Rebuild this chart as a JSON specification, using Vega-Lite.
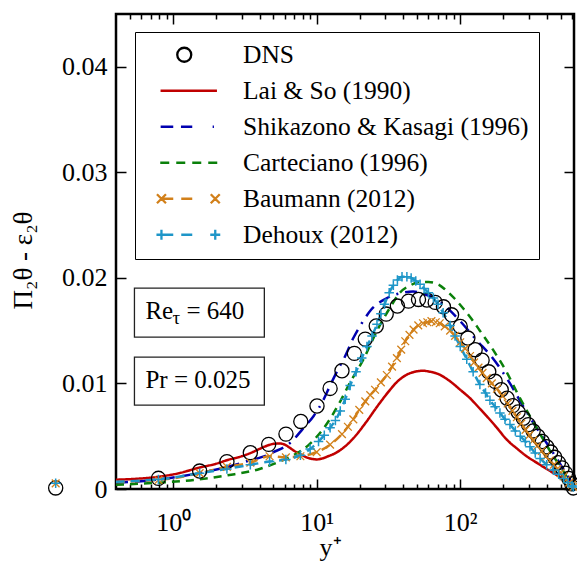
{
  "$schema": "https://vega.github.io/schema/vega-lite/v6.json",
  "width": 458,
  "height": 475,
  "autosize": {"type": "none"},
  "padding": {"left": 116, "top": 14, "right": 3, "bottom": 72},
  "background": "white",
  "config": {
    "view": {"stroke": "black", "strokeWidth": 2.5},
    "font": "Liberation Serif",
    "axis": {
      "domain": false,
      "grid": false,
      "tickColor": "black",
      "tickWidth": 1.5,
      "labelFont": "Liberation Serif",
      "labelFontSize": 26,
      "labelColor": "black",
      "labelOverlap": false,
      "labelBound": false,
      "labelFlush": false,
      "titleFont": "Liberation Serif",
      "titleFontWeight": "normal",
      "titleColor": "black"
    },
    "legend": {
      "orient": "none",
      "legendX": 19,
      "legendY": 18,
      "padding": 10,
      "strokeColor": "black",
      "rowPadding": 9,
      "labelFont": "Liberation Serif",
      "labelFontSize": 25.5,
      "labelColor": "black",
      "labelLimit": 500,
      "symbolSize": 100,
      "symbolStrokeWidth": 2.3,
      "symbolFillColor": "transparent",
      "symbolOpacity": 1,
      "symbolOffset": 31,
      "labelOffset": 41.5
    }
  },
  "datasets": {
    "curves": [
      {"m": "DNS", "yp": 0.152, "v": 0.0001},
      {"m": "DNS", "yp": 0.79, "v": 0.00101},
      {"m": "DNS", "yp": 1.53, "v": 0.0017},
      {"m": "DNS", "yp": 2.37, "v": 0.00259},
      {"m": "DNS", "yp": 3.45, "v": 0.00344},
      {"m": "DNS", "yp": 4.63, "v": 0.00423},
      {"m": "DNS", "yp": 6.11, "v": 0.0052},
      {"m": "DNS", "yp": 7.75, "v": 0.0064},
      {"m": "DNS", "yp": 10.05, "v": 0.00786},
      {"m": "DNS", "yp": 12.4, "v": 0.00953},
      {"m": "DNS", "yp": 15.0, "v": 0.0112},
      {"m": "DNS", "yp": 18.3, "v": 0.01285},
      {"m": "DNS", "yp": 21.8, "v": 0.0142},
      {"m": "DNS", "yp": 26.0, "v": 0.01544},
      {"m": "DNS", "yp": 30.5, "v": 0.01657},
      {"m": "DNS", "yp": 36.5, "v": 0.01733},
      {"m": "DNS", "yp": 43.6, "v": 0.0178},
      {"m": "DNS", "yp": 51.2, "v": 0.01796},
      {"m": "DNS", "yp": 58.6, "v": 0.0179},
      {"m": "DNS", "yp": 66.9, "v": 0.01768},
      {"m": "DNS", "yp": 76.4, "v": 0.01726},
      {"m": "DNS", "yp": 87, "v": 0.0165},
      {"m": "DNS", "yp": 100, "v": 0.0154},
      {"m": "DNS", "yp": 113, "v": 0.0143},
      {"m": "DNS", "yp": 127, "v": 0.0132},
      {"m": "DNS", "yp": 142, "v": 0.0122},
      {"m": "DNS", "yp": 158, "v": 0.0111},
      {"m": "DNS", "yp": 175, "v": 0.0102},
      {"m": "DNS", "yp": 193, "v": 0.0094},
      {"m": "DNS", "yp": 212, "v": 0.0086},
      {"m": "DNS", "yp": 232, "v": 0.0079},
      {"m": "DNS", "yp": 253, "v": 0.0073},
      {"m": "DNS", "yp": 275, "v": 0.0067},
      {"m": "DNS", "yp": 298, "v": 0.0061},
      {"m": "DNS", "yp": 322, "v": 0.0055},
      {"m": "DNS", "yp": 347, "v": 0.005},
      {"m": "DNS", "yp": 373, "v": 0.0045},
      {"m": "DNS", "yp": 400, "v": 0.004},
      {"m": "DNS", "yp": 427, "v": 0.0035},
      {"m": "DNS", "yp": 455, "v": 0.003},
      {"m": "DNS", "yp": 483, "v": 0.0025},
      {"m": "DNS", "yp": 512, "v": 0.002},
      {"m": "DNS", "yp": 541, "v": 0.0015},
      {"m": "DNS", "yp": 570, "v": 0.001},
      {"m": "DNS", "yp": 598, "v": 0.0005},
      {"m": "DNS", "yp": 615, "v": 0.0001},

      {"m": "Lai & So (1990)", "yp": 0.4, "v": 0.00088},
      {"m": "Lai & So (1990)", "yp": 0.6, "v": 0.001},
      {"m": "Lai & So (1990)", "yp": 0.8, "v": 0.00117},
      {"m": "Lai & So (1990)", "yp": 1.1, "v": 0.0015},
      {"m": "Lai & So (1990)", "yp": 1.5, "v": 0.002},
      {"m": "Lai & So (1990)", "yp": 2.0, "v": 0.0024},
      {"m": "Lai & So (1990)", "yp": 2.4, "v": 0.00275},
      {"m": "Lai & So (1990)", "yp": 3.0, "v": 0.0031},
      {"m": "Lai & So (1990)", "yp": 3.45, "v": 0.0034},
      {"m": "Lai & So (1990)", "yp": 4.0, "v": 0.0038},
      {"m": "Lai & So (1990)", "yp": 4.5, "v": 0.0041},
      {"m": "Lai & So (1990)", "yp": 5.0, "v": 0.00428},
      {"m": "Lai & So (1990)", "yp": 5.5, "v": 0.00432},
      {"m": "Lai & So (1990)", "yp": 6.0, "v": 0.0042},
      {"m": "Lai & So (1990)", "yp": 6.5, "v": 0.0039},
      {"m": "Lai & So (1990)", "yp": 7.0, "v": 0.0036},
      {"m": "Lai & So (1990)", "yp": 7.7, "v": 0.0033},
      {"m": "Lai & So (1990)", "yp": 8.5, "v": 0.003},
      {"m": "Lai & So (1990)", "yp": 9.3, "v": 0.00285},
      {"m": "Lai & So (1990)", "yp": 10.0, "v": 0.0028},
      {"m": "Lai & So (1990)", "yp": 11.0, "v": 0.0029},
      {"m": "Lai & So (1990)", "yp": 12.0, "v": 0.0031},
      {"m": "Lai & So (1990)", "yp": 13.5, "v": 0.0034},
      {"m": "Lai & So (1990)", "yp": 15, "v": 0.0038},
      {"m": "Lai & So (1990)", "yp": 18, "v": 0.0048},
      {"m": "Lai & So (1990)", "yp": 22, "v": 0.0063},
      {"m": "Lai & So (1990)", "yp": 27, "v": 0.008},
      {"m": "Lai & So (1990)", "yp": 32, "v": 0.0093},
      {"m": "Lai & So (1990)", "yp": 36, "v": 0.0101},
      {"m": "Lai & So (1990)", "yp": 42, "v": 0.0108},
      {"m": "Lai & So (1990)", "yp": 48, "v": 0.0111},
      {"m": "Lai & So (1990)", "yp": 55, "v": 0.0112},
      {"m": "Lai & So (1990)", "yp": 62, "v": 0.0111},
      {"m": "Lai & So (1990)", "yp": 70, "v": 0.0109},
      {"m": "Lai & So (1990)", "yp": 85, "v": 0.0102},
      {"m": "Lai & So (1990)", "yp": 100, "v": 0.0094},
      {"m": "Lai & So (1990)", "yp": 117, "v": 0.0086},
      {"m": "Lai & So (1990)", "yp": 135, "v": 0.0077},
      {"m": "Lai & So (1990)", "yp": 153, "v": 0.0069},
      {"m": "Lai & So (1990)", "yp": 180, "v": 0.0058},
      {"m": "Lai & So (1990)", "yp": 210, "v": 0.0047},
      {"m": "Lai & So (1990)", "yp": 250, "v": 0.0038},
      {"m": "Lai & So (1990)", "yp": 290, "v": 0.0031},
      {"m": "Lai & So (1990)", "yp": 340, "v": 0.0025},
      {"m": "Lai & So (1990)", "yp": 400, "v": 0.0019},
      {"m": "Lai & So (1990)", "yp": 460, "v": 0.0014},
      {"m": "Lai & So (1990)", "yp": 525, "v": 0.0009},
      {"m": "Lai & So (1990)", "yp": 580, "v": 0.0005},
      {"m": "Lai & So (1990)", "yp": 620, "v": 0.0002},

      {"m": "Shikazono & Kasagi (1996)", "yp": 0.4, "v": 0.0006},
      {"m": "Shikazono & Kasagi (1996)", "yp": 0.8, "v": 0.0009},
      {"m": "Shikazono & Kasagi (1996)", "yp": 1.5, "v": 0.0015},
      {"m": "Shikazono & Kasagi (1996)", "yp": 2.4, "v": 0.0021},
      {"m": "Shikazono & Kasagi (1996)", "yp": 3.4, "v": 0.0027},
      {"m": "Shikazono & Kasagi (1996)", "yp": 4.5, "v": 0.0032},
      {"m": "Shikazono & Kasagi (1996)", "yp": 5.2, "v": 0.0036},
      {"m": "Shikazono & Kasagi (1996)", "yp": 6.0, "v": 0.004},
      {"m": "Shikazono & Kasagi (1996)", "yp": 6.7, "v": 0.0045},
      {"m": "Shikazono & Kasagi (1996)", "yp": 8.0, "v": 0.0057},
      {"m": "Shikazono & Kasagi (1996)", "yp": 9.5, "v": 0.0069},
      {"m": "Shikazono & Kasagi (1996)", "yp": 11.0, "v": 0.0083},
      {"m": "Shikazono & Kasagi (1996)", "yp": 12.5, "v": 0.0099},
      {"m": "Shikazono & Kasagi (1996)", "yp": 13.8, "v": 0.0111},
      {"m": "Shikazono & Kasagi (1996)", "yp": 15.8, "v": 0.0126},
      {"m": "Shikazono & Kasagi (1996)", "yp": 18, "v": 0.0143},
      {"m": "Shikazono & Kasagi (1996)", "yp": 20.6, "v": 0.0157},
      {"m": "Shikazono & Kasagi (1996)", "yp": 24, "v": 0.017},
      {"m": "Shikazono & Kasagi (1996)", "yp": 30, "v": 0.018},
      {"m": "Shikazono & Kasagi (1996)", "yp": 35, "v": 0.0184},
      {"m": "Shikazono & Kasagi (1996)", "yp": 40, "v": 0.0186},
      {"m": "Shikazono & Kasagi (1996)", "yp": 47, "v": 0.0187},
      {"m": "Shikazono & Kasagi (1996)", "yp": 55, "v": 0.0185},
      {"m": "Shikazono & Kasagi (1996)", "yp": 68, "v": 0.018},
      {"m": "Shikazono & Kasagi (1996)", "yp": 85, "v": 0.0169},
      {"m": "Shikazono & Kasagi (1996)", "yp": 100, "v": 0.0159},
      {"m": "Shikazono & Kasagi (1996)", "yp": 130, "v": 0.0141},
      {"m": "Shikazono & Kasagi (1996)", "yp": 166, "v": 0.0125},
      {"m": "Shikazono & Kasagi (1996)", "yp": 222, "v": 0.01},
      {"m": "Shikazono & Kasagi (1996)", "yp": 270, "v": 0.008},
      {"m": "Shikazono & Kasagi (1996)", "yp": 322, "v": 0.0063},
      {"m": "Shikazono & Kasagi (1996)", "yp": 380, "v": 0.0048},
      {"m": "Shikazono & Kasagi (1996)", "yp": 445, "v": 0.0034},
      {"m": "Shikazono & Kasagi (1996)", "yp": 500, "v": 0.0023},
      {"m": "Shikazono & Kasagi (1996)", "yp": 550, "v": 0.0014},
      {"m": "Shikazono & Kasagi (1996)", "yp": 620, "v": 0.0002},

      {"m": "Carteciano (1996)", "yp": 0.4, "v": 0.0004},
      {"m": "Carteciano (1996)", "yp": 0.8, "v": 0.0006},
      {"m": "Carteciano (1996)", "yp": 1.4, "v": 0.00085},
      {"m": "Carteciano (1996)", "yp": 2.4, "v": 0.0013},
      {"m": "Carteciano (1996)", "yp": 4.0, "v": 0.0019},
      {"m": "Carteciano (1996)", "yp": 5.5, "v": 0.0026},
      {"m": "Carteciano (1996)", "yp": 6.9, "v": 0.0032},
      {"m": "Carteciano (1996)", "yp": 9.0, "v": 0.0043},
      {"m": "Carteciano (1996)", "yp": 11.8, "v": 0.0062},
      {"m": "Carteciano (1996)", "yp": 14.6, "v": 0.0083},
      {"m": "Carteciano (1996)", "yp": 17.1, "v": 0.0101},
      {"m": "Carteciano (1996)", "yp": 21.2, "v": 0.0123},
      {"m": "Carteciano (1996)", "yp": 26.3, "v": 0.015},
      {"m": "Carteciano (1996)", "yp": 32.5, "v": 0.0172},
      {"m": "Carteciano (1996)", "yp": 38, "v": 0.0186},
      {"m": "Carteciano (1996)", "yp": 45, "v": 0.0193},
      {"m": "Carteciano (1996)", "yp": 52, "v": 0.0196},
      {"m": "Carteciano (1996)", "yp": 60, "v": 0.0196},
      {"m": "Carteciano (1996)", "yp": 70, "v": 0.0194},
      {"m": "Carteciano (1996)", "yp": 80, "v": 0.0188},
      {"m": "Carteciano (1996)", "yp": 92, "v": 0.018},
      {"m": "Carteciano (1996)", "yp": 105, "v": 0.0171},
      {"m": "Carteciano (1996)", "yp": 120, "v": 0.0161},
      {"m": "Carteciano (1996)", "yp": 137, "v": 0.015},
      {"m": "Carteciano (1996)", "yp": 169, "v": 0.0132},
      {"m": "Carteciano (1996)", "yp": 210, "v": 0.0111},
      {"m": "Carteciano (1996)", "yp": 254, "v": 0.0089},
      {"m": "Carteciano (1996)", "yp": 300, "v": 0.0071},
      {"m": "Carteciano (1996)", "yp": 340, "v": 0.0058},
      {"m": "Carteciano (1996)", "yp": 390, "v": 0.0044},
      {"m": "Carteciano (1996)", "yp": 445, "v": 0.0031},
      {"m": "Carteciano (1996)", "yp": 500, "v": 0.0021},
      {"m": "Carteciano (1996)", "yp": 550, "v": 0.0012},
      {"m": "Carteciano (1996)", "yp": 620, "v": 0.0002},

      {"m": "Baumann (2012)", "yp": 0.152, "v": 0.00054},
      {"m": "Baumann (2012)", "yp": 0.79, "v": 0.00085},
      {"m": "Baumann (2012)", "yp": 1.53, "v": 0.0015},
      {"m": "Baumann (2012)", "yp": 2.37, "v": 0.0021},
      {"m": "Baumann (2012)", "yp": 3.45, "v": 0.0025},
      {"m": "Baumann (2012)", "yp": 4.7, "v": 0.0031},
      {"m": "Baumann (2012)", "yp": 6.1, "v": 0.003},
      {"m": "Baumann (2012)", "yp": 7.7, "v": 0.0031},
      {"m": "Baumann (2012)", "yp": 10.0, "v": 0.0035},
      {"m": "Baumann (2012)", "yp": 12.4, "v": 0.0042},
      {"m": "Baumann (2012)", "yp": 15.0, "v": 0.0052},
      {"m": "Baumann (2012)", "yp": 16.5, "v": 0.0059},
      {"m": "Baumann (2012)", "yp": 18.0, "v": 0.0066},
      {"m": "Baumann (2012)", "yp": 19.8, "v": 0.0075},
      {"m": "Baumann (2012)", "yp": 21.8, "v": 0.0083},
      {"m": "Baumann (2012)", "yp": 23.6, "v": 0.0089},
      {"m": "Baumann (2012)", "yp": 25.5, "v": 0.0094},
      {"m": "Baumann (2012)", "yp": 28.0, "v": 0.0101},
      {"m": "Baumann (2012)", "yp": 30.8, "v": 0.0108},
      {"m": "Baumann (2012)", "yp": 33.5, "v": 0.0116},
      {"m": "Baumann (2012)", "yp": 36.2, "v": 0.0124},
      {"m": "Baumann (2012)", "yp": 38.8, "v": 0.0132},
      {"m": "Baumann (2012)", "yp": 41.4, "v": 0.014},
      {"m": "Baumann (2012)", "yp": 44.3, "v": 0.0146},
      {"m": "Baumann (2012)", "yp": 47.3, "v": 0.0151},
      {"m": "Baumann (2012)", "yp": 51.0, "v": 0.0155},
      {"m": "Baumann (2012)", "yp": 55.0, "v": 0.0157},
      {"m": "Baumann (2012)", "yp": 59.0, "v": 0.0158},
      {"m": "Baumann (2012)", "yp": 63.0, "v": 0.0159},
      {"m": "Baumann (2012)", "yp": 67.5, "v": 0.0158},
      {"m": "Baumann (2012)", "yp": 72.0, "v": 0.0157},
      {"m": "Baumann (2012)", "yp": 78.0, "v": 0.0154},
      {"m": "Baumann (2012)", "yp": 85.0, "v": 0.015},
      {"m": "Baumann (2012)", "yp": 92.0, "v": 0.0145},
      {"m": "Baumann (2012)", "yp": 100.0, "v": 0.0139},
      {"m": "Baumann (2012)", "yp": 108, "v": 0.0133},
      {"m": "Baumann (2012)", "yp": 117, "v": 0.0126},
      {"m": "Baumann (2012)", "yp": 125, "v": 0.012},
      {"m": "Baumann (2012)", "yp": 134, "v": 0.0115},
      {"m": "Baumann (2012)", "yp": 143, "v": 0.011},
      {"m": "Baumann (2012)", "yp": 153, "v": 0.0105},
      {"m": "Baumann (2012)", "yp": 166, "v": 0.01},
      {"m": "Baumann (2012)", "yp": 180, "v": 0.0095},
      {"m": "Baumann (2012)", "yp": 197, "v": 0.0088},
      {"m": "Baumann (2012)", "yp": 214, "v": 0.0081},
      {"m": "Baumann (2012)", "yp": 231, "v": 0.0074},
      {"m": "Baumann (2012)", "yp": 248, "v": 0.0068},
      {"m": "Baumann (2012)", "yp": 266, "v": 0.0062},
      {"m": "Baumann (2012)", "yp": 285, "v": 0.0056},
      {"m": "Baumann (2012)", "yp": 303, "v": 0.0051},
      {"m": "Baumann (2012)", "yp": 322, "v": 0.0046},
      {"m": "Baumann (2012)", "yp": 345, "v": 0.0041},
      {"m": "Baumann (2012)", "yp": 370, "v": 0.0036},
      {"m": "Baumann (2012)", "yp": 395, "v": 0.0031},
      {"m": "Baumann (2012)", "yp": 420, "v": 0.0027},
      {"m": "Baumann (2012)", "yp": 448, "v": 0.0023},
      {"m": "Baumann (2012)", "yp": 475, "v": 0.0019},
      {"m": "Baumann (2012)", "yp": 500, "v": 0.0015},
      {"m": "Baumann (2012)", "yp": 525, "v": 0.0012},
      {"m": "Baumann (2012)", "yp": 550, "v": 0.0009},
      {"m": "Baumann (2012)", "yp": 575, "v": 0.0006},
      {"m": "Baumann (2012)", "yp": 600, "v": 0.0004},
      {"m": "Baumann (2012)", "yp": 615, "v": 0.0002},

      {"m": "Dehoux (2012)", "yp": 0.152, "v": 0.00054},
      {"m": "Dehoux (2012)", "yp": 0.79, "v": 0.0009},
      {"m": "Dehoux (2012)", "yp": 1.53, "v": 0.0015},
      {"m": "Dehoux (2012)", "yp": 2.37, "v": 0.0019},
      {"m": "Dehoux (2012)", "yp": 3.45, "v": 0.0023},
      {"m": "Dehoux (2012)", "yp": 4.7, "v": 0.0026},
      {"m": "Dehoux (2012)", "yp": 6.1, "v": 0.0028},
      {"m": "Dehoux (2012)", "yp": 7.7, "v": 0.0032},
      {"m": "Dehoux (2012)", "yp": 9.0, "v": 0.0038},
      {"m": "Dehoux (2012)", "yp": 10.3, "v": 0.0045},
      {"m": "Dehoux (2012)", "yp": 11.3, "v": 0.0051},
      {"m": "Dehoux (2012)", "yp": 12.4, "v": 0.0058},
      {"m": "Dehoux (2012)", "yp": 13.5, "v": 0.0065},
      {"m": "Dehoux (2012)", "yp": 14.6, "v": 0.0074},
      {"m": "Dehoux (2012)", "yp": 15.8, "v": 0.0085},
      {"m": "Dehoux (2012)", "yp": 17.1, "v": 0.0098},
      {"m": "Dehoux (2012)", "yp": 18.8, "v": 0.0111},
      {"m": "Dehoux (2012)", "yp": 20.6, "v": 0.0124},
      {"m": "Dehoux (2012)", "yp": 22.4, "v": 0.0135},
      {"m": "Dehoux (2012)", "yp": 24.3, "v": 0.0145},
      {"m": "Dehoux (2012)", "yp": 26.3, "v": 0.0156},
      {"m": "Dehoux (2012)", "yp": 28.0, "v": 0.0166},
      {"m": "Dehoux (2012)", "yp": 29.7, "v": 0.0175},
      {"m": "Dehoux (2012)", "yp": 32.0, "v": 0.0186},
      {"m": "Dehoux (2012)", "yp": 34.2, "v": 0.0193},
      {"m": "Dehoux (2012)", "yp": 36.5, "v": 0.0198},
      {"m": "Dehoux (2012)", "yp": 39.3, "v": 0.0201},
      {"m": "Dehoux (2012)", "yp": 42.5, "v": 0.0201},
      {"m": "Dehoux (2012)", "yp": 45.5, "v": 0.02},
      {"m": "Dehoux (2012)", "yp": 49.0, "v": 0.0197},
      {"m": "Dehoux (2012)", "yp": 52.5, "v": 0.0194},
      {"m": "Dehoux (2012)", "yp": 56.0, "v": 0.019},
      {"m": "Dehoux (2012)", "yp": 60.0, "v": 0.0186},
      {"m": "Dehoux (2012)", "yp": 65.0, "v": 0.0181},
      {"m": "Dehoux (2012)", "yp": 70.0, "v": 0.0175},
      {"m": "Dehoux (2012)", "yp": 76.0, "v": 0.0167},
      {"m": "Dehoux (2012)", "yp": 85.0, "v": 0.0155},
      {"m": "Dehoux (2012)", "yp": 92.0, "v": 0.0145},
      {"m": "Dehoux (2012)", "yp": 100.0, "v": 0.0135},
      {"m": "Dehoux (2012)", "yp": 111, "v": 0.0123},
      {"m": "Dehoux (2012)", "yp": 123, "v": 0.0111},
      {"m": "Dehoux (2012)", "yp": 137, "v": 0.0099},
      {"m": "Dehoux (2012)", "yp": 150, "v": 0.0091},
      {"m": "Dehoux (2012)", "yp": 161, "v": 0.0084},
      {"m": "Dehoux (2012)", "yp": 175, "v": 0.0078},
      {"m": "Dehoux (2012)", "yp": 189, "v": 0.0072},
      {"m": "Dehoux (2012)", "yp": 205, "v": 0.0066},
      {"m": "Dehoux (2012)", "yp": 222, "v": 0.0061},
      {"m": "Dehoux (2012)", "yp": 242, "v": 0.0055},
      {"m": "Dehoux (2012)", "yp": 262, "v": 0.005},
      {"m": "Dehoux (2012)", "yp": 284, "v": 0.0045},
      {"m": "Dehoux (2012)", "yp": 306, "v": 0.004},
      {"m": "Dehoux (2012)", "yp": 333, "v": 0.0034},
      {"m": "Dehoux (2012)", "yp": 360, "v": 0.0029},
      {"m": "Dehoux (2012)", "yp": 400, "v": 0.0023},
      {"m": "Dehoux (2012)", "yp": 445, "v": 0.0018},
      {"m": "Dehoux (2012)", "yp": 485, "v": 0.0014},
      {"m": "Dehoux (2012)", "yp": 525, "v": 0.001},
      {"m": "Dehoux (2012)", "yp": 565, "v": 0.0006},
      {"m": "Dehoux (2012)", "yp": 600, "v": 0.0003},
      {"m": "Dehoux (2012)", "yp": 615, "v": 0.0002}
    ]
  },
  "layer": [
    {
      "data": {"name": "curves"},
      "transform": [{"filter": "datum.m !== 'DNS'"}],
      "mark": {"type": "line", "clip": true, "strokeWidth": 2.5, "interpolate": "monotone"},
      "encoding": {
        "x": {
          "field": "yp", "type": "quantitative",
          "scale": {"type": "log", "domain": [0.4, 620], "nice": false},
          "axis": {
            "orient": "bottom",
            "values": [0.5, 0.6, 0.7, 0.8, 0.9, 1, 2, 3, 4, 5, 6, 7, 8, 9, 10, 20, 30, 40, 50, 60, 70, 80, 90, 100, 200, 300, 400, 500, 600],
            "tickSize": {"condition": {"test": "datum.value == 1 || datum.value == 10 || datum.value == 100", "value": -10}, "value": -5},
            "labelExpr": "datum.value == 1 ? '10⁰' : datum.value == 10 ? '10¹' : datum.value == 100 ? '10²' : ''",
            "labelPadding": 30,
            "title": "y⁺",
            "titleFontSize": 26,
            "titleX": 214,
            "titleY": 66,
            "titleBaseline": "alphabetic"
          }
        },
        "y": {
          "field": "v", "type": "quantitative",
          "scale": {"domain": [0, 0.045], "nice": false, "zero": false},
          "axis": {
            "orient": "left",
            "values": [0, 0.01, 0.02, 0.03, 0.04],
            "tickSize": -10,
            "labelPadding": 19,
            "labelExpr": "datum.value == 0 ? '0' : format(datum.value, '.2f')",
            "title": "Π₂θ - ε₂θ",
            "titleFontSize": 27,
            "titleX": -85,
            "titleY": 246,
            "titleAngle": -90,
            "titleAlign": "center",
            "titleBaseline": "alphabetic"
          }
        },
        "color": {
          "field": "m", "type": "nominal",
          "scale": {
            "domain": ["DNS", "Lai & So (1990)", "Shikazono & Kasagi (1996)", "Carteciano (1996)", "Baumann (2012)", "Dehoux (2012)"],
            "range": ["#000000", "#c00000", "#0000b0", "#0a800a", "#d2801a", "#1e96c8"]
          },
          "legend": {"title": null}
        },
        "strokeDash": {
          "field": "m", "type": "nominal",
          "scale": {
            "domain": ["Lai & So (1990)", "Shikazono & Kasagi (1996)", "Carteciano (1996)", "Baumann (2012)", "Dehoux (2012)"],
            "range": [[1, 0], [12, 7, 12, 7, 2, 7], [8, 6], [9, 6], [9, 6]]
          },
          "legend": null
        }
      }
    },
    {
      "data": {"name": "curves"},
      "transform": [{"filter": "datum.yp < 0"}],
      "mark": {"type": "point", "filled": false, "opacity": 1},
      "encoding": {
        "x": {"field": "yp", "type": "quantitative", "axis": null},
        "y": {"field": "v", "type": "quantitative", "axis": null},
        "color": {"field": "m", "type": "nominal", "legend": {"title": null}},
        "shape": {
          "field": "m", "type": "nominal",
          "scale": {
            "domain": ["DNS", "Lai & So (1990)", "Shikazono & Kasagi (1996)", "Carteciano (1996)", "Baumann (2012)", "Dehoux (2012)"],
            "range": [
              "M-2.3,0A1.4,1.4,0,1,0,0.5,0A1.4,1.4,0,1,0,-2.3,0Z",
              "M-5.64,0L5.64,0",
              "M-5.62,0L-3.1,0M-1.56,0L0.7,0M4.78,0L5.04,0",
              "M-5.7,0L-3.9,0M-2.5,0L-0.7,0M0.7,0L2.5,0M3.9,0L5.7,0",
              "M-6.36,-0.9L-4.56,0.9M-6.36,0.9L-4.56,-0.9M-5.46,0L-3.1,0M-1.5,0L0.7,0M4.4,-0.9L6.2,0.9M4.4,0.9L6.2,-0.9",
              "M-6.46,0L-4.46,0M-5.46,-1L-5.46,1M-5.46,0L-3.1,0M-1.5,0L0.7,0M4.3,0L6.3,0M5.3,-1L5.3,1"
            ]
          },
          "legend": {"title": null}
        }
      }
    },
    {
      "data": {"name": "curves"},
      "transform": [{"filter": "datum.m === 'DNS'"}],
      "mark": {"type": "point", "shape": "circle", "size": 200, "filled": false, "stroke": "black", "strokeWidth": 1.3, "opacity": 1},
      "encoding": {
        "x": {"field": "yp", "type": "quantitative", "axis": null},
        "y": {
          "field": "v", "type": "quantitative",
          "axis": {"orient": "right", "values": [0, 0.01, 0.02, 0.03, 0.04], "tickSize": -10, "labels": false, "title": null}
        }
      }
    },
    {
      "data": {"name": "curves"},
      "transform": [{"filter": "datum.m === 'Baumann (2012)'"}],
      "mark": {"type": "point", "shape": "M-1,-1L1,1M-1,1L1,-1", "size": 60, "filled": false, "stroke": "#d2801a", "strokeWidth": 1.3, "opacity": 1},
      "encoding": {
        "x": {
          "field": "yp", "type": "quantitative",
          "axis": {
            "orient": "top",
            "values": [0.5, 0.6, 0.7, 0.8, 0.9, 1, 2, 3, 4, 5, 6, 7, 8, 9, 10, 20, 30, 40, 50, 60, 70, 80, 90, 100, 200, 300, 400, 500, 600],
            "tickSize": {"condition": {"test": "datum.value == 1 || datum.value == 10 || datum.value == 100", "value": -10}, "value": -5},
            "labels": false,
            "title": null
          }
        },
        "y": {"field": "v", "type": "quantitative", "axis": null}
      }
    },
    {
      "data": {"name": "curves"},
      "transform": [{"filter": "datum.m === 'Dehoux (2012)'"}],
      "mark": {"type": "point", "shape": "M-1,0L1,0M0,-1L0,1", "size": 90, "filled": false, "stroke": "#1e96c8", "strokeWidth": 1.5, "opacity": 1},
      "encoding": {
        "x": {"field": "yp", "type": "quantitative", "axis": null},
        "y": {"field": "v", "type": "quantitative", "axis": null}
      }
    },
    {
      "data": {"values": [{"box": "Re"}]},
      "mark": {"type": "rect", "fill": "transparent", "stroke": "#222222", "strokeWidth": 1.3},
      "encoding": {
        "x": {"datum": 0.5377, "type": "quantitative", "axis": null},
        "x2": {"datum": 4.319},
        "y": {"datum": 0.019034, "type": "quantitative", "axis": null},
        "y2": {"datum": 0.014394}
      }
    },
    {
      "data": {"values": [{"box": "Pr"}]},
      "mark": {"type": "rect", "fill": "transparent", "stroke": "#222222", "strokeWidth": 1.3},
      "encoding": {
        "x": {"datum": 0.5377, "type": "quantitative", "axis": null},
        "x2": {"datum": 4.319},
        "y": {"datum": 0.0125, "type": "quantitative", "axis": null},
        "y2": {"datum": 0.007955}
      }
    },
    {
      "data": {"values": [{"t": "Re"}]},
      "mark": {"type": "text", "text": "Re", "font": "Liberation Serif", "fontSize": 25, "align": "left", "baseline": "alphabetic", "color": "black"},
      "encoding": {
        "x": {"datum": 0.6415, "type": "quantitative", "axis": null},
        "y": {"datum": 0.0161, "type": "quantitative", "axis": null}
      }
    },
    {
      "data": {"values": [{"t": "tau"}]},
      "mark": {"type": "text", "text": "τ", "font": "Liberation Serif", "fontSize": 19, "align": "left", "baseline": "alphabetic", "dx": 27, "dy": 5, "color": "black"},
      "encoding": {
        "x": {"datum": 0.6415, "type": "quantitative", "axis": null},
        "y": {"datum": 0.0161, "type": "quantitative", "axis": null}
      }
    },
    {
      "data": {"values": [{"t": "eq"}]},
      "mark": {"type": "text", "text": "= 640", "font": "Liberation Serif", "fontSize": 25, "align": "left", "baseline": "alphabetic", "dx": 41, "color": "black"},
      "encoding": {
        "x": {"datum": 0.6415, "type": "quantitative", "axis": null},
        "y": {"datum": 0.0161, "type": "quantitative", "axis": null}
      }
    },
    {
      "data": {"values": [{"t": "Pr"}]},
      "mark": {"type": "text", "text": "Pr = 0.025", "font": "Liberation Serif", "fontSize": 25, "align": "left", "baseline": "alphabetic", "color": "black"},
      "encoding": {
        "x": {"datum": 0.6415, "type": "quantitative", "axis": null},
        "y": {"datum": 0.00954, "type": "quantitative", "axis": null}
      }
    }
  ],
  "resolve": {"axis": {"x": "independent", "y": "independent"}}
}
